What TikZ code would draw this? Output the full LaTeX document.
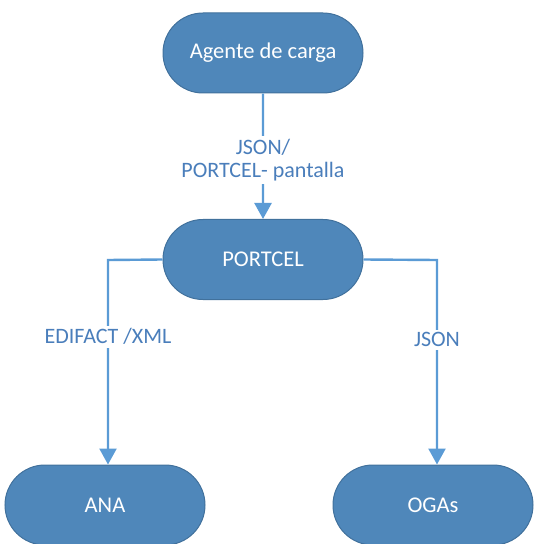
\documentclass[tikz,border=0pt]{standalone}
\usepackage{fontspec}
\setmainfont{Carlito}
\usetikzlibrary{arrows.meta,shapes.misc,calc}
\definecolor{nodefill}{HTML}{4F87BA}
\definecolor{nodeedge}{HTML}{41719C}
\definecolor{linecol}{HTML}{5B9BD5}
\definecolor{labcol}{HTML}{4A7EBB}
\tikzset{
  term/.style={rounded rectangle, minimum width=200bp, minimum height=80bp,
    fill=nodefill, draw=nodeedge, line width=1bp, text=white,
    font=\fontsize{22.5bp}{26bp}\selectfont, inner sep=0pt},
  conn/.style={draw=linecol, line width=2.4bp, -{Triangle[width=17bp,length=16bp]}},
  lab/.style={fill=white, text=labcol, font=\fontsize{22bp}{23.5bp}\selectfont, align=center, inner sep=3bp}
}
\begin{document}
\begin{tikzpicture}[x=1bp,y=-1bp]
\useasboundingbox (0,0) rectangle (534,544);
\node[term] (agente) at (263,53) {Agente de carga};
\node[term] (portcel) at (263,259.5) {PORTCEL};
\node[term] (ana) at (105,505) {ANA};
\node[term] (ogas) at (433,505) {OGAs};
\coordinate (lc) at (108,260);
\coordinate (rc) at (437,260);
\draw[conn] (agente) -- node[lab, yshift=-4bp] {JSON/\\PORTCEL- pantalla} (portcel);
\draw[conn] (portcel.west) -- (lc) -- node[lab, pos=0.375] {EDIFACT /XML} (lc |- ana.north);
\draw[conn] (portcel.east) -- (rc) -- node[lab, pos=0.39] {JSON} (rc |- ogas.north);
\end{tikzpicture}
\end{document}
